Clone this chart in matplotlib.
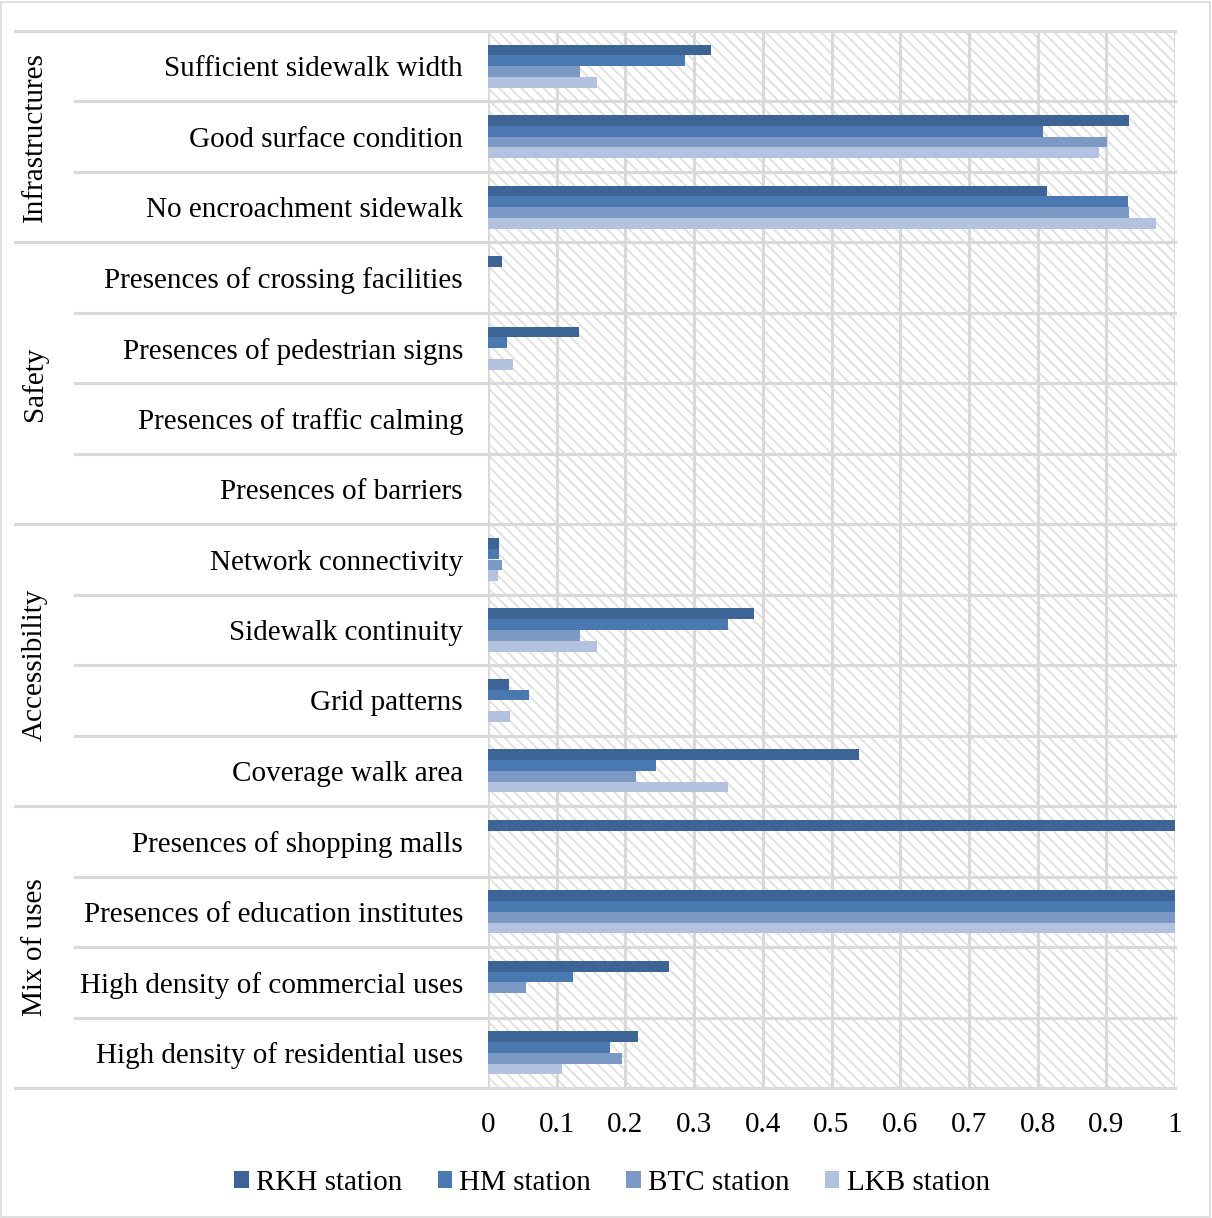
import matplotlib
matplotlib.use("Agg")
import matplotlib.pyplot as plt
from matplotlib.patches import Rectangle, Patch
from matplotlib.lines import Line2D
import matplotlib.transforms as mtransforms
import numpy as np

plt.rcParams["font.family"] = ["Liberation Serif", "DejaVu Serif"]
plt.rcParams["hatch.linewidth"] = 1.3

categories = [
    "Sufficient sidewalk width",
    "Good surface condition",
    "No encroachment sidewalk",
    "Presences of crossing facilities",
    "Presences of pedestrian signs",
    "Presences of traffic calming",
    "Presences of barriers",
    "Network connectivity",
    "Sidewalk continuity",
    "Grid patterns",
    "Coverage walk area",
    "Presences of shopping malls",
    "Presences of education institutes",
    "High density of commercial uses",
    "High density of residential uses",
]

groups = ["Infrastructures", "Safety", "Accessibility", "Mix of uses"]
group_sizes = [3, 4, 4, 4]

series_names = ["RKH station", "HM station", "BTC station", "LKB station"]
rkh = [0.324, 0.933, 0.813, 0.020, 0.133, 0.0, 0.0, 0.016, 0.387, 0.031, 0.540, 1.0, 1.0, 0.264, 0.219]
hm  = [0.287, 0.808, 0.932, 0.0, 0.027, 0.0, 0.0, 0.016, 0.350, 0.059, 0.244, 0.0, 1.0, 0.123, 0.177]
btc = [0.134, 0.901, 0.933, 0.0, 0.0, 0.0, 0.0, 0.020, 0.134, 0.0, 0.216, 0.0, 1.0, 0.055, 0.195]
lkb = [0.158, 0.890, 0.973, 0.0, 0.037, 0.0, 0.0, 0.015, 0.158, 0.032, 0.349, 0.0, 1.0, 0.0, 0.108]

x_ticks = [0, 0.1, 0.2, 0.3, 0.4, 0.5, 0.6, 0.7, 0.8, 0.9, 1.0]
x_tick_labels = ["0", "0.1", "0.2", "0.3", "0.4", "0.5", "0.6", "0.7", "0.8", "0.9", "1"]

colors = ["#3c6494", "#4a79b2", "#7c99c6", "#b3c2de"]
grid_gray = "#d9d9d9"
FS = 21

W, H = 1212, 1218
fig = plt.figure(figsize=(W / 100, H / 100), dpi=100)
ax = fig.add_axes([488 / W, 1 - 1088 / H, (1175 - 488) / W, (1088 - 31) / H])

n = len(categories)
ax.set_xlim(0, 1)
ax.set_ylim(n - 0.5, -0.5)

# hatched plot background
bg = Rectangle((0, 0), 1, 1, transform=ax.transAxes, facecolor="white",
               edgecolor="#e0e0e0", hatch="\\\\\\", linewidth=0, zorder=0)
ax.add_patch(bg)

# vertical gridlines
for t in x_ticks:
    ax.axvline(t, color=grid_gray, lw=2.2, zorder=1)

# bars
h = 0.153
y = np.arange(n)
for i, (vals, c) in enumerate(zip([rkh, hm, btc, lkb], colors)):
    off = (i - 1.5) * h
    ax.barh(y + off, vals, height=h, color=c, linewidth=0, zorder=3)

ax.set_xticks(x_ticks)
ax.set_xticklabels(x_tick_labels, fontsize=FS)
ax.set_yticks(y)
ax.set_yticklabels(categories, fontsize=FS)
ax.tick_params(axis="both", length=0)
ax.tick_params(axis="y", pad=18)
ax.tick_params(axis="x", pad=17)
for s in ax.spines.values():
    s.set_visible(False)

# row separators, extending into the label area
trans = mtransforms.blended_transform_factory(fig.transFigure, ax.transData)
boundaries = np.cumsum([0] + group_sizes)
for k in range(n + 1):
    yb = k - 0.5
    x0 = 15 / W if k in boundaries else 75 / W
    fig.add_artist(Line2D([x0, 1175 / W], [yb, yb], transform=trans,
                          color=grid_gray, lw=2.2, zorder=2))

# group labels
start = 0
for g, size in zip(groups, group_sizes):
    yc = start + (size - 1) / 2
    fig.text(35 / W, yc, g, rotation=90, ha="center", va="center", fontsize=FS,
             transform=trans)
    start += size

# legend
handles = [Patch(facecolor=c, edgecolor="none") for c in colors]
fig.legend(handles, series_names, loc="center", bbox_to_anchor=(612 / W, 1 - 1183 / H),
           ncol=4, frameon=False, fontsize=FS, handlelength=0.5, handleheight=0.5,
           handletextpad=0.25, columnspacing=1.2)

# outer frame
fig.add_artist(Rectangle((1 / W, 1 / H), 1 - 3 / W, 1 - 3 / H, transform=fig.transFigure,
                         fill=False, edgecolor="#d9d9d9", lw=1.2))

fig.savefig("out.png", dpi=100)
